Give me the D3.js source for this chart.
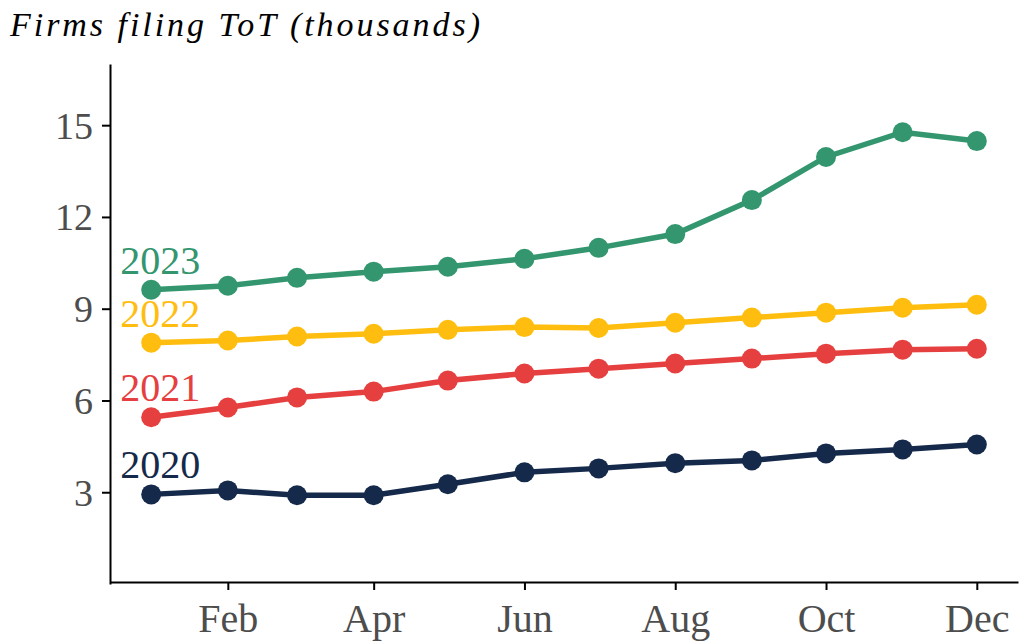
<!DOCTYPE html>
<html>
<head>
<meta charset="utf-8">
<title>Firms filing ToT</title>
<style>
  body { margin: 0; background: #fff; }
  svg text { font-family: "Liberation Serif", "DejaVu Serif", serif; }
</style>
</head>
<body>
<svg width="1020" height="642"></svg>
<script src="https://d3js.org/d3.v7.min.js"></script>
<script>
// months plotted (first of each month, on one reference year)
const months = ["Jan","Feb","Mar","Apr","May","Jun","Jul","Aug","Sep","Oct","Nov","Dec"];
const years = ["2020","2021","2022","2023"];
const colors = ["#15294a","#e5403f","#ffbe0f","#33966f"];

// firms filing ToT, thousands
const v2020 = [2.93, 3.06, 2.90, 2.90, 3.26, 3.65, 3.78, 3.95, 4.04, 4.27, 4.40, 4.56];
const v2021 = [5.45, 5.77, 6.10, 6.29, 6.65, 6.88, 7.04, 7.21, 7.37, 7.53, 7.66, 7.69];
const v2022 = [7.89, 7.96, 8.09, 8.18, 8.31, 8.40, 8.37, 8.54, 8.71, 8.87, 9.03, 9.13];
const v2023 = [9.62, 9.75, 10.01, 10.21, 10.37, 10.63, 10.99, 11.44, 12.55, 13.96, 14.77, 14.48];

const yTicks = [3, 6, 9, 12, 15];
const xTickMonths = ["Feb","Apr","Jun","Aug","Oct","Dec"];

const series = [v2020, v2021, v2022, v2023].map(function(vals, i) {
  return {
    year: years[i],
    color: colors[i],
    values: vals.map(function(v, m) { return {date: new Date(2023, m, 1), value: v}; })
  };
});

const margin = {top: 62, right: 2, bottom: 60, left: 110};
const width = 1020 - margin.left - margin.right,
      height = 642 - margin.top - margin.bottom;

const svg = d3.select("svg");
const g = svg.append("g").attr("transform", `translate(${margin.left},${margin.top})`);

const x = d3.scaleTime()
  .domain([new Date(2022, 11, 15, 8), new Date(2023, 11, 17, 16)])
  .range([0, width]);

const y = d3.scaleLinear()
  .domain([0, 17])
  .range([height + 2, 2]);

// axes
const xAxis = g.append("g")
  .attr("transform", `translate(0,${height})`)
  .call(d3.axisBottom(x)
    .tickValues(xTickMonths.map(function(m) { return new Date(2023, months.indexOf(m), 1); }))
    .tickFormat(d3.timeFormat("%b"))
    .tickSizeOuter(0).tickSizeInner(8).tickPadding(6));

const yAxis = g.append("g")
  .call(d3.axisLeft(y)
    .tickValues(yTicks)
    .tickSizeOuter(0).tickSizeInner(8).tickPadding(9));

[xAxis, yAxis].forEach(function(a) {
  a.select(".domain").attr("stroke", "#000").attr("stroke-width", 2);
  a.selectAll(".tick line").attr("stroke", "#000").attr("stroke-width", 2);
  a.selectAll(".tick text").attr("fill", "#4d4d4d").style("font-size", "38px");
});
yAxis.selectAll(".tick text").attr("dy", "0.34em");
xAxis.selectAll(".tick text").attr("dy", "0.9em").style("font-size", "40px");

// lines + points
const line = d3.line()
  .x(function(d) { return x(d.date); })
  .y(function(d) { return y(d.value); });

const sg = g.selectAll(".series")
  .data(series)
  .enter().append("g")
  .attr("class", "series");

sg.append("path")
  .attr("d", function(d) { return line(d.values); })
  .attr("fill", "none")
  .attr("stroke", function(d) { return d.color; })
  .attr("stroke-width", 5.5);

sg.selectAll("circle")
  .data(function(d) { return d.values.map(function(p) { return {p: p, color: d.color}; }); })
  .enter().append("circle")
  .attr("cx", function(d) { return x(d.p.date); })
  .attr("cy", function(d) { return y(d.p.value); })
  .attr("r", 10)
  .attr("fill", function(d) { return d.color; });

// year labels above the January point
sg.append("text")
  .attr("x", function(d) { return x(d.values[0].date) - 31; })
  .attr("y", function(d) { return y(d.values[0].value) - 16; })
  .attr("fill", function(d) { return d.color; })
  .style("font-size", "40px")
  .text(function(d) { return d.year; });

// title
svg.append("text")
  .attr("x", 10)
  .attr("y", 36)
  .style("font-size", "34px")
  .style("font-style", "italic")
  .attr("fill", "#000")
  .attr("textLength", 470)
  .attr("lengthAdjust", "spacing")
  .text("Firms filing ToT (thousands)");
</script>
</body>
</html>
